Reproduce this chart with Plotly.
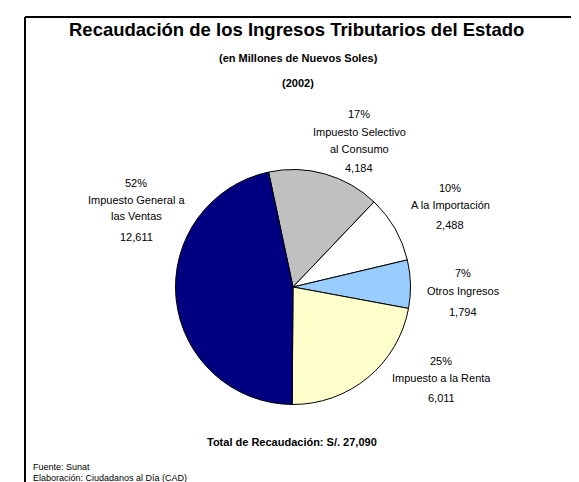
import plotly.graph_objects as go

# Data
categories = ["Impuesto Selectivo<br>al Consumo", "A la Importación", "Otros Ingresos",
              "Impuesto a la Renta", "Impuesto General a<br>las Ventas"]
values = [4184, 2488, 1794, 6011, 12611]
pct_labels = ["17%", "10%", "7%", "25%", "52%"]
value_labels = ["4,184", "2,488", "1,794", "6,011", "12,611"]
colors = ["#C0C0C0", "#FFFFFF", "#99CCFF", "#FFFFCC", "#000080"]

W, H = 579, 482
cx, cy, r = 285, 279, 117.5

fig = go.Figure(go.Pie(
    labels=categories, values=values, sort=False, direction="clockwise",
    rotation=-12, textinfo="none", hoverinfo="label+value",
    marker=dict(colors=colors, line=dict(color="#000000", width=1)),
    domain=dict(x=[(cx - r) / W, (cx + r) / W], y=[(H - cy - r) / H, (H - cy + r) / H]),
    showlegend=False,
))


def px(x):
    return x / W


def py(y):
    return 1 - y / H


font = "Liberation Sans, Arial, sans-serif"
ann = []

# label layout: center x, y of pct line, y of each name line, y of value line
label_layout = [
    (351, 106, [124, 141], 160),
    (442, 180, [197], 217),
    (455, 265, [283], 304),
    (433, 353, [370], 390),
    (128, 175, [192, 208], 229),
]


def txt(x, y, s, size=11, bold=False, xanchor="center"):
    return dict(x=px(x), y=py(y), xref="paper", yref="paper", showarrow=False,
                text=("<b>%s</b>" % s) if bold else s, xanchor=xanchor, yanchor="middle",
                borderpad=0,
                font=dict(family=font, size=size, color="#000000"))


for i, (x, yp, ylines, yv) in enumerate(label_layout):
    ann.append(txt(x, yp, pct_labels[i]))
    for line, yl in zip(categories[i].split("<br>"), ylines):
        ann.append(txt(x, yl, line))
    ann.append(txt(x, yv, value_labels[i]))

ann += [
    txt(288, 22, "Recaudación de los Ingresos Tributarios del Estado", size=18.5, bold=True),
    txt(290, 50, "(en Millones de Nuevos Soles)", size=11, bold=True),
    txt(290, 75, "(2002)", size=11, bold=True),
    txt(284, 434, "Total de Recaudación: S/. 27,090", size=11, bold=True),
    txt(24, 459, "Fuente: Sunat", size=9, xanchor="left"),
    txt(24, 470, "Elaboración: Ciudadanos al Día (CAD)", size=9, xanchor="left"),
]

border = dict(color="#000000", width=2)
fig.update_layout(
    width=W, height=H, margin=dict(l=0, r=0, t=0, b=0),
    paper_bgcolor="#FFFFFF", plot_bgcolor="#FFFFFF",
    annotations=ann,
    shapes=[
        dict(type="line", xref="paper", yref="paper", x0=px(17), x1=px(572),
             y0=py(9), y1=py(9), line=border),
        dict(type="line", xref="paper", yref="paper", x0=px(17), x1=px(17),
             y0=py(9), y1=0, line=border),
        dict(type="line", xref="paper", yref="paper", x0=px(572), x1=px(572),
             y0=py(9), y1=0, line=border),
    ],
)

fig.write_html("out.html")
